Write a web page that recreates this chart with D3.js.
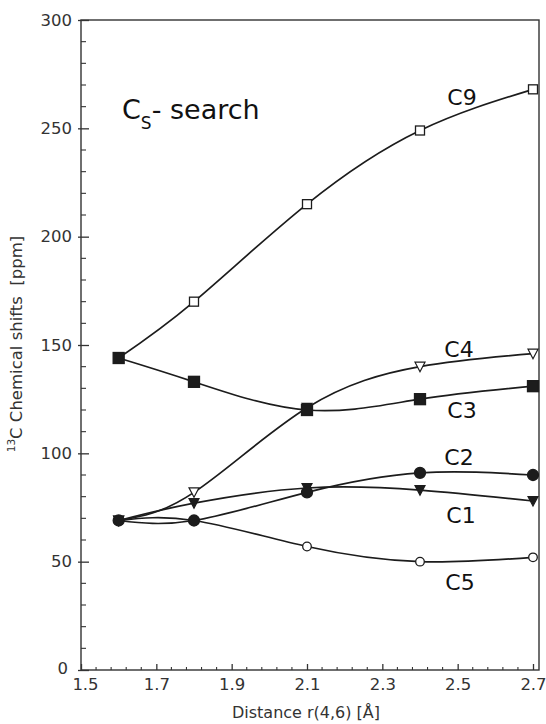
<!DOCTYPE html>
<html>
<head>
<meta charset="utf-8">
<script src="https://cdn.jsdelivr.net/npm/d3@7/dist/d3.min.js"></script>
<style>
  html, body { margin: 0; padding: 0; background: #fff; }
  svg { display: block; font-family: "DejaVu Sans", Verdana, sans-serif; }
</style>
</head>
<body>
<svg id="chart" width="546" height="724"></svg>
<script>
// ---- data ----
const distances = [1.6, 1.8, 2.1, 2.4, 2.7];
const C9 = [144, 170, 215, 249, 268];
const C4 = [69, 82, 121, 140, 146];
const C3 = [144, 133, 120, 125, 131];
const C2 = [69, 69, 82, 91, 90];
const C1 = [69, 77, 84, 83, 78];
const C5 = [69, 69, 57, 50, 52];
const xTickLabels = ["1.5", "1.7", "1.9", "2.1", "2.3", "2.5", "2.7"];
const yTickLabels = ["0", "50", "100", "150", "200", "250", "300"];

const series = [
  { name: "C9", values: C9, marker: "square", filled: false, label: [462, 105] },
  { name: "C4", values: C4, marker: "triangle", filled: false, label: [459, 357] },
  { name: "C1", values: C1, marker: "triangle", filled: true, label: [461, 523] },
  { name: "C5", values: C5, marker: "circle", filled: false, label: [460, 590] },
  { name: "C3", values: C3, marker: "square", filled: true, label: [462, 418] },
  { name: "C2", values: C2, marker: "circle", filled: true, label: [459, 465] }
];

// ---- layout ----
const svg = d3.select("#chart");
const pL = 81, pR = 539, pT = 20, pB = 670;
const x = d3.scaleLinear().domain([1.5, 2.7]).range([pL, 533]);
const y = d3.scaleLinear().domain([0, 300]).range([pB, pT]);
const ink = "#1c1c1c";

// frame
svg.append("rect")
  .attr("x", pL).attr("y", pT)
  .attr("width", pR - pL).attr("height", pB - pT)
  .attr("fill", "none").attr("stroke", "#333").attr("stroke-width", 1.4);

// y axis labels via d3 axis
const yMajor = yTickLabels.map(Number);
const yAxis = d3.axisLeft(y).tickValues(yMajor).tickFormat((d, i) => yTickLabels[i])
  .tickSizeInner(-8).tickSizeOuter(0).tickPadding(9);
const gy = svg.append("g").attr("transform", `translate(${pL},0)`).call(yAxis);
gy.select(".domain").remove();
gy.selectAll(".tick line").attr("stroke", "#333").attr("stroke-width", 1.3).attr("x1", -3);
gy.selectAll(".tick text").attr("font-size", 16.5).attr("fill", "#333")
  .attr("font-family", "DejaVu Sans, Verdana, sans-serif");
gy.selectAll(".tick text").filter(d => d === 0).attr("dy", "0.2em").attr("x", -13);

// y minor ticks
const yMinor = d3.range(0, 301, 10).filter(v => v % 50 !== 0);
svg.append("g").selectAll("line").data(yMinor).join("line")
  .attr("x1", pL).attr("x2", pL + 5)
  .attr("y1", d => y(d)).attr("y2", d => y(d))
  .attr("stroke", "#333").attr("stroke-width", 1.1);

// x axis labels via d3 axis
const xMajor = xTickLabels.map(Number);
const xAxis = d3.axisBottom(x).tickValues(xMajor).tickFormat((d, i) => xTickLabels[i])
  .tickSizeInner(-6).tickSizeOuter(0).tickPadding(8);
const gx = svg.append("g").attr("transform", `translate(0,${pB})`).call(xAxis);
gx.select(".domain").remove();
gx.selectAll(".tick line").attr("stroke", "#333").attr("stroke-width", 1.3);
gx.selectAll(".tick text").attr("font-size", 16.5).attr("fill", "#333")
  .attr("font-family", "DejaVu Sans, Verdana, sans-serif");
gx.selectAll(".tick text").filter(d => d === 1.5).attr("dx", 4);

// x minor ticks every 0.04
const xMinor = d3.range(0, 31).map(i => 1.5 + i * 0.04).filter((v, i) => i % 5 !== 0);
svg.append("g").selectAll("line").data(xMinor).join("line")
  .attr("x1", d => x(d)).attr("x2", d => x(d))
  .attr("y1", pB).attr("y2", pB - 3)
  .attr("stroke", "#333").attr("stroke-width", 1.1);

// axis titles
svg.append("text")
  .attr("x", 306).attr("y", 718)
  .attr("text-anchor", "middle").attr("font-size", 16).attr("fill", "#333")
  .text("Distance r(4,6) [Å]");

const yt = svg.append("text")
  .attr("transform", "translate(22,344) rotate(-90)")
  .attr("text-anchor", "middle").attr("font-size", 16.5).attr("fill", "#333");
yt.append("tspan").attr("font-size", 10.5).attr("dy", -7).text("13");
yt.append("tspan").attr("dy", 7).text("C Chemical shifts\u00A0\u00A0[ppm]");

// title
const title = svg.append("text").attr("x", 122).attr("y", 119)
  .attr("font-size", 27).attr("fill", "#111");
title.append("tspan").text("C");
title.append("tspan").attr("font-size", 17).attr("dy", 10).text("S");
title.append("tspan").attr("dy", -10).text("- search");

// lines
const line = d3.line().x((d, i) => x(distances[i])).y(d => y(d)).curve(d3.curveNatural);
const gl = svg.append("g");
series.forEach(s => {
  gl.append("path").attr("d", line(s.values))
    .attr("fill", "none").attr("stroke", ink).attr("stroke-width", 1.7);
});

// markers
const gm = svg.append("g");
const order = ["C9", "C5", "C4", "C1", "C3", "C2"];
order.forEach(nm => {
  const s = series.find(t => t.name === nm);
  s.values.forEach((v, i) => {
    const cx = x(distances[i]), cy = y(v);
    const fill = s.filled ? ink : "#fff";
    if (s.marker === "square") {
      const h = s.filled ? 5.5 : 4.5;
      gm.append("rect").attr("x", cx - h).attr("y", cy - h)
        .attr("width", 2 * h).attr("height", 2 * h)
        .attr("fill", fill).attr("stroke", ink).attr("stroke-width", 1.3);
    } else if (s.marker === "circle") {
      const r = s.filled ? 5.5 : 4.3;
      gm.append("circle").attr("cx", cx).attr("cy", cy).attr("r", r)
        .attr("fill", fill).attr("stroke", ink).attr("stroke-width", 1.3);
    } else {
      const w = 5;
      gm.append("path")
        .attr("d", `M${cx - w},${cy - 4.5}L${cx + w},${cy - 4.5}L${cx},${cy + 5}Z`)
        .attr("fill", fill).attr("stroke", ink).attr("stroke-width", 1.2);
    }
  });
});

// series labels
svg.append("g").selectAll("text").data(series).join("text")
  .attr("x", d => d.label[0]).attr("y", d => d.label[1])
  .attr("text-anchor", "middle").attr("font-size", 22).attr("fill", "#111")
  .text(d => d.name);
</script>
</body>
</html>
